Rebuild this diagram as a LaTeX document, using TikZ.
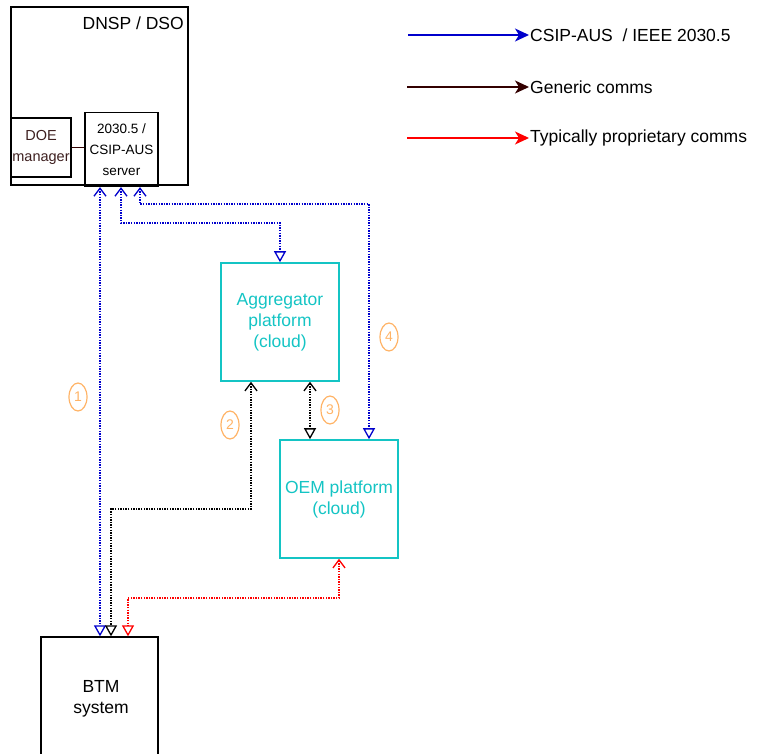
\documentclass[tikz,border=0pt]{standalone}
\usepackage{fontspec}
\setmainfont{Liberation Sans}
\usetikzlibrary{arrows.meta,shapes.geometric,calc}
\definecolor{cyanb}{HTML}{14C4C4}
\definecolor{bluel}{HTML}{0000CC}
\definecolor{brn}{HTML}{330000}
\definecolor{brtxt}{HTML}{3D1F1F}
\definecolor{orng}{HTML}{FFB366}
\definecolor{redl}{HTML}{FF0000}
\tikzset{
  box/.style={draw=black, line width=1.3pt, rectangle, inner sep=0pt, align=center},
  cloudbox/.style={draw=cyanb, line width=1.6pt, rectangle, inner sep=0pt, align=center, text=cyanb,
    font=\fontsize{17.5}{21}\selectfont, minimum width=118pt, minimum height=118pt},
  conn/.style={line width=1.4pt, dash pattern=on 1.4pt off 1.2pt,
    {Straight Barb[length=8pt,width=12pt,line width=1.3pt]}-{Triangle[open,length=11pt,width=12pt,line width=1.3pt]}},
  numlbl/.style={ellipse, draw=orng, line width=1.2pt, text=orng, minimum width=18pt, minimum height=28pt,
    inner sep=0pt, font=\fontsize{14}{16}\selectfont},
  legarrow/.style={line width=1.5pt, -{Stealth[length=14pt,width=13pt,inset=4pt]}},
  legtext/.style={anchor=west, inner sep=1pt, font=\fontsize{17.5}{21}\selectfont}
}
\begin{document}
\begin{tikzpicture}[x=1pt,y=-1pt]
\useasboundingbox (0,0) rectangle (760,754);
% DNSP box
\node[box, minimum width=177pt, minimum height=178pt] (dso) at (99.5,96) {};
\node[anchor=north east, inner sep=0pt, font=\fontsize{17.5}{21}\selectfont] (dsot) at (184,17) {DNSP / DSO};
\node[box, minimum width=60pt, minimum height=59pt, text=brtxt, font=\fontsize{14.5}{21}\selectfont] (doe) at (41,147.5) {DOE\\manager};
\node[box, minimum width=73pt, minimum height=74pt, text=black, font=\fontsize{13.5}{21}\selectfont] (srv) at (121.5,149.5) {2030.5 /\\CSIP-AUS\\server};
\draw[brn, line width=1.5pt] (doe.east) -- (doe.east -| srv.west);
% cloud boxes
\node[cloudbox] (agg) at (280,322) {Aggregator\\platform\\(cloud)};
\node[cloudbox] (oem) at (339,499) {OEM platform\\(cloud)};
% BTM
\node[box, minimum width=117pt, minimum height=120pt] (btm) at (99.5,697) {};
\node[align=center, inner sep=0pt, font=\fontsize{17.5}{21}\selectfont] (btmt) at (101,699) {BTM\\system};
% x reference coordinates
\coordinate (xa) at (100,0);
\coordinate (xb) at (121,0);
\coordinate (xc) at (140,0);
\coordinate (xd) at (111,0);
\coordinate (xe) at (128,0);
\coordinate (xg) at (251,0);
\coordinate (xh) at (310,0);
\coordinate (xi) at (280,0);
\coordinate (xj) at (369,0);
\coordinate (xk) at (339,0);
\coordinate (ya) at (0,223);
\coordinate (yb) at (0,204);
\coordinate (yc) at (0,509);
\coordinate (yd) at (0,598);
% connectors
\draw[conn, bluel] (srv.south -| xa) -- (btm.north -| xa);
\draw[conn, bluel] (srv.south -| xb) -- (xb |- ya) -- (xi |- ya) -- (agg.north -| xi);
\draw[conn, bluel] (srv.south -| xc) -- (xc |- yb) -- (xj |- yb) -- (oem.north -| xj);
\draw[conn, black] (agg.south -| xg) -- (xg |- yc) -- (xd |- yc) -- (btm.north -| xd);
\draw[conn, black] (agg.south -| xh) -- (oem.north -| xh);
\draw[conn, redl] (oem.south -| xk) -- (xk |- yd) -- (xe |- yd) -- (btm.north -| xe);
% number labels
\node[numlbl] (n1) at (78,397) {1};
\node[numlbl] (n2) at (230,425) {2};
\node[numlbl] (n3) at (330,410) {3};
\node[numlbl] (n4) at (389,337) {4};
% legend
\node[legtext] (t1) at (529,35) {CSIP-AUS \ / IEEE 2030.5};
\node[legtext] (t2) at (529,87) {Generic comms};
\node[legtext] (t3) at (529,138) {Typically proprietary comms};
\coordinate (l1) at (408,35);
\coordinate (l2) at (407,87);
\coordinate (l3) at (407,138);
\draw[legarrow, bluel] (l1) -- (t1.west);
\draw[legarrow, brn] (l2) -- (t2.west);
\draw[legarrow, redl] (l3) -- (t3.west);
\end{tikzpicture}
\end{document}
